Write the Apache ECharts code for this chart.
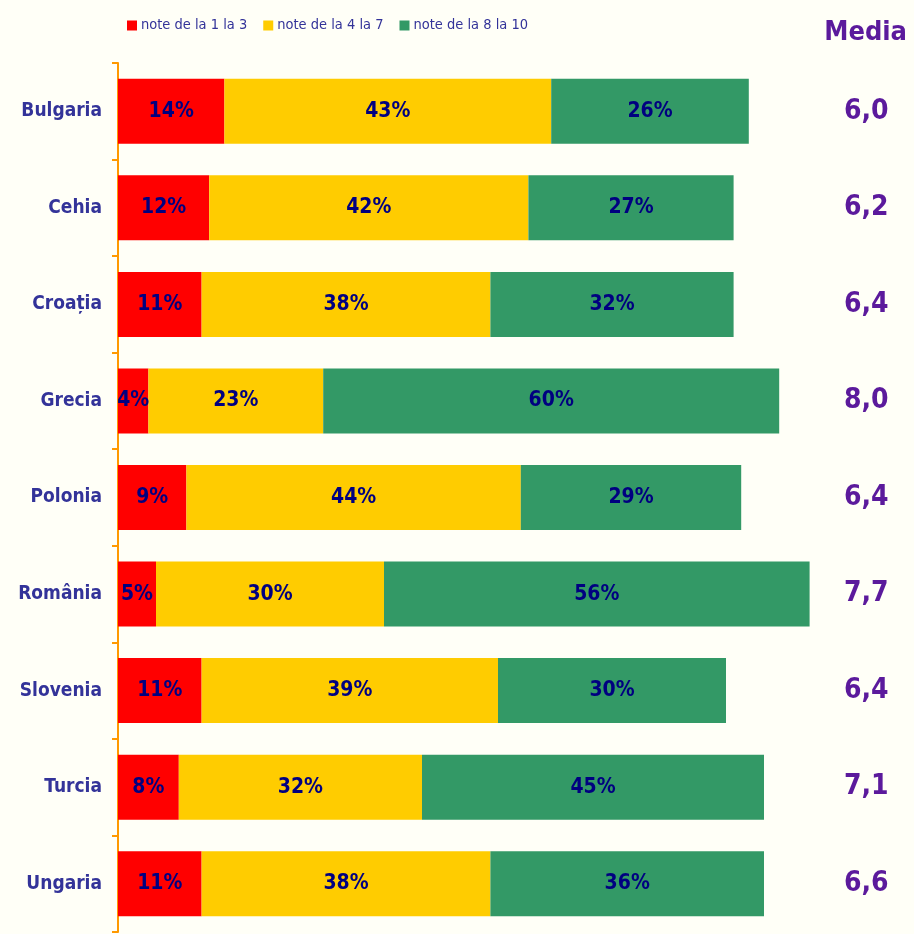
<!DOCTYPE html>
<html>
<head>
<meta charset="utf-8">
<script src="https://cdn.jsdelivr.net/npm/echarts@6/dist/echarts.min.js"></script>
<style>
  html, body { margin: 0; padding: 0; background: #FFFFF7; }
  #chart { width: 914px; height: 934px; }
</style>
</head>
<body>
<div id="chart"></div>
<script>
// date
const countries = ['Bulgaria', 'Cehia', 'Croația', 'Grecia', 'Polonia', 'România', 'Slovenia', 'Turcia', 'Ungaria']
const low = [14, 12, 11, 4, 9, 5, 11, 8, 11]       // note de la 1 la 3
const mid = [43, 42, 38, 23, 44, 30, 39, 32, 38]   // note de la 4 la 7
const high = [26, 27, 32, 60, 29, 56, 30, 45, 36]  // note de la 8 la 10
const media = ['6,0', '6,2', '6,4', '8,0', '6,4', '7,7', '6,4', '7,1', '6,6']

const seriesNames = ['note de la 1 la 3', 'note de la 4 la 7', 'note de la 8 la 10']
const seriesColors = ['#FF0000', '#FFCC00', '#339966']

const condensed = "'DejaVu Sans Condensed', 'DejaVu Sans', sans-serif"

const chart = echarts.init(document.getElementById('chart'))

function barSeries(name, data, color) {
  return {
    name: name,
    type: 'bar',
    stack: 'total',
    barWidth: 65,
    data: data,
    itemStyle: { color: color },
    label: {
      show: true,
      position: 'inside',
      formatter: '{c}%',
      color: '#000080',
      fontFamily: condensed,
      fontWeight: 'bold',
      fontSize: 21
    }
  }
}

const option = {
  backgroundColor: '#FFFFF7',
  animation: false,
  title: {
    text: 'Media',
    right: 2,
    top: 14,
    textStyle: {
      color: '#5B1A9C',
      fontFamily: condensed,
      fontWeight: 'bold',
      fontSize: 27
    }
  },
  legend: {
    data: seriesNames,
    top: 13,
    left: 122,
    itemWidth: 10,
    itemHeight: 10,
    itemGap: 16,
    icon: 'rect',
    textStyle: {
      color: '#333399',
      fontFamily: condensed,
      fontSize: 14.5,
      padding: [0, 0, 0, -1]
    }
  },
  grid: {
    left: 118,
    right: 36,
    top: 63,
    bottom: 2,
    containLabel: false
  },
  xAxis: {
    type: 'value',
    min: 0,
    max: 100,
    show: false
  },
  yAxis: [
    {
      type: 'category',
      data: countries,
      inverse: true,
      axisLine: { show: true, lineStyle: { color: '#FF9900', width: 2 } },
      axisTick: { show: true, length: 6, lineStyle: { color: '#FF9900', width: 2 } },
      axisLabel: {
        margin: 16,
        color: '#333399',
        fontFamily: condensed,
        fontWeight: 'bold',
        fontSize: 19
      }
    },
    {
      type: 'category',
      data: media,
      inverse: true,
      position: 'right',
      axisLine: { show: false },
      axisTick: { show: false },
      axisLabel: {
        margin: -34,
        color: '#5B1A9C',
        fontFamily: condensed,
        fontWeight: 'bold',
        fontSize: 28,
        padding: [0, 0, 6, 0]
      }
    }
  ],
  series: [
    barSeries(seriesNames[0], low, seriesColors[0]),
    barSeries(seriesNames[1], mid, seriesColors[1]),
    barSeries(seriesNames[2], high, seriesColors[2])
  ]
}

chart.setOption(option)
</script>
</body>
</html>
